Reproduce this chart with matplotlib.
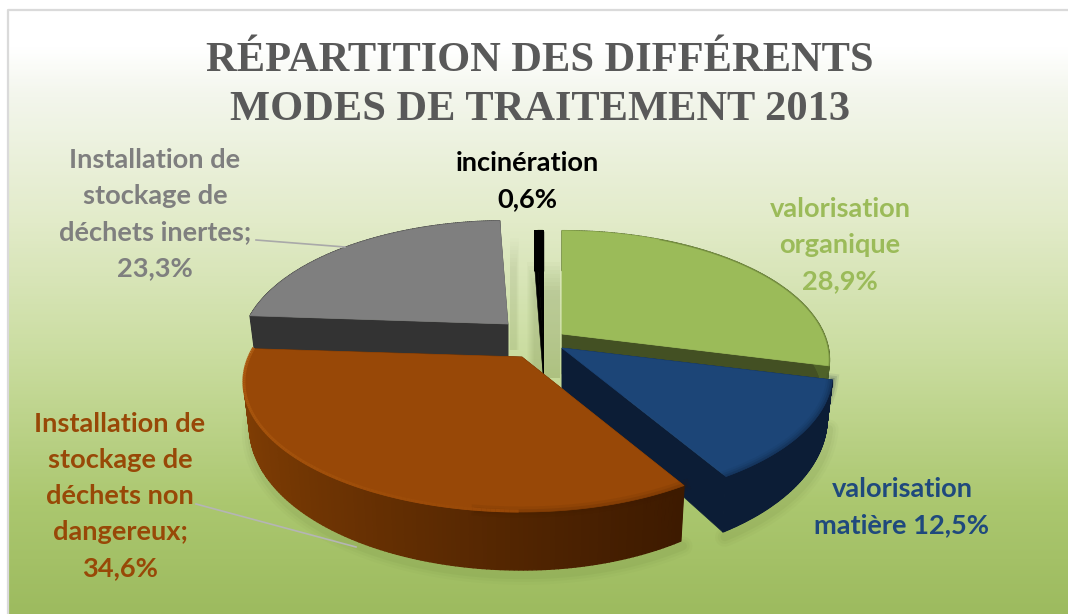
import numpy as np
import matplotlib
matplotlib.use("Agg")
import matplotlib.pyplot as plt
from matplotlib.colors import LinearSegmentedColormap, to_rgb

# ---- data ----
categories = ["valorisation organique", "valorisation matière",
              "Installation de stockage de déchets non dangereux",
              "Installation de stockage de déchets inertes", "incinération"]
values = [28.9, 12.5, 34.6, 23.3, 0.6]
title_text = "RÉPARTITION DES DIFFÉRENTS\nMODES DE TRAITEMENT 2013"
label_texts = ["valorisation\norganique\n28,9%",
               "valorisation\nmatière 12,5%",
               "Installation de\nstockage de\ndéchets non\ndangereux;\n34,6%",
               "Installation de\nstockage de\ndéchets inertes;\n23,3%",
               "incinération\n0,6%"]

# ---- style / layout ----
W, H = 1068, 614
RX, RY, P = 262.0, 124.0, 0.20
top_cols = ["#9bbb59", "#1c4577", "#984807", "#7f7f7f", "#000000"]
face_cols = ["#435023", "#0c1d36", "#3d1a00", "#333333", "#000000"]
rim_left = ["#4f6228", "#0c1d36", "#7f3d04", "#333333", "#000000"]
rim_right = ["#4f6228", "#0c1d36", "#3d1a00", "#333333", "#000000"]
centers = [(562, 334), (562, 348), (522, 357), (508, 324), (543, 334)]
left_stretch = [1.0, 1.0, 1.04, 1.0, 1.0]
right_stretch = [1.0, 1.012, 1.0, 1.0, 1.0]
label_pos = [(840, 245), (902, 507), (120, 496), (155, 214), (527, 181)]
draw_order = [3, 0, 4, 1, 2]

fig = plt.figure(figsize=(W / 100, H / 100), dpi=100)
ax = fig.add_axes([0, 0, 1, 1])
ax.set_xlim(0, W)
ax.set_ylim(H, 0)
ax.axis("off")

# background
bg = LinearSegmentedColormap.from_list("bg", [
    (0.0, "#ffffff"), (0.06, "#ffffff"), (0.14, "#f3f6ec"), (0.35, "#e2ebc9"),
    (0.58, "#c9dc9e"), (0.82, "#abc76f"), (1.0, "#9dbb5f")])
ax.imshow(np.linspace(0, 1, 300)[:, None], cmap=bg, aspect="auto",
          extent=(8, W, H, 10), zorder=0)
ax.plot([8, 8, W], [H, 10, 10], color="#dadada", lw=1.6, zorder=1)
ax.set_xlim(0, W)
ax.set_ylim(H, 0)


def project(theta, c, lstretch, rstretch):
    X, Y = np.sin(theta), np.cos(theta)
    s = 1 / (1 + P * Y)
    sx = np.where(X < 0, lstretch, rstretch)
    return c[0] + RX * X * s * sx, c[1] - RY * Y * s, Y


def depth(Y):
    return 40 - 18 * np.minimum(Y, 0)


def mix(a, b, t):
    a, b = np.array(to_rgb(a)), np.array(to_rgb(b))
    return tuple(a + (b - a) * t)


bounds = np.cumsum([0] + values) / np.sum(values) * 2 * np.pi

# soft shadows under the front slices
for i in [1, 2]:
    th = np.linspace(bounds[i], bounds[i + 1], 120)
    x, y, Y = project(th, centers[i], left_stretch[i], right_stretch[i])
    xb = centers[i][0] + (x - centers[i][0]) * 0.98
    yb = y + depth(Y)
    for lw, a in [(14, .03), (10, .04), (6, .06)]:
        ax.plot(xb + 2, yb + 5, color="#4f6228", lw=lw, alpha=a, zorder=2,
                solid_capstyle="round")
# soft shadow in the gap behind the slices
for g in range(8):
    ax.fill_between([510, 515 - g * 0.4 + 4], 238 + g * 4, 350, color="#4f6228",
                    alpha=0.012, lw=0, zorder=2)
    ax.fill_between([527 + g, 560], 262 + g * 4, 378, color="#4f6228",
                    alpha=0.022, lw=0, zorder=2)

z = 3
for i in draw_order:
    c = centers[i]
    th = np.linspace(bounds[i], bounds[i + 1], 160)
    x, y, Y = project(th, c, left_stretch[i], right_stretch[i])
    xb = c[0] + (x - c[0]) * 0.98
    yb = y + depth(Y)
    d0 = 40
    # radial faces
    for k in [0, -1]:
        ax.fill([c[0], x[k], xb[k], c[0]], [c[1], y[k], yb[k], c[1] + d0],
                color=face_cols[i], lw=0.4, zorder=z)
    # outer rim as gradient strips
    xmin, xmax = x.min(), x.max()
    for k in range(len(th) - 1):
        t = (x[k] - xmin) / max(xmax - xmin, 1)
        col = mix(rim_left[i], rim_right[i], t ** 0.8)
        ax.fill([x[k], x[k + 1], xb[k + 1], xb[k]],
                [y[k], y[k + 1], yb[k + 1], yb[k]],
                color=col, ec=col, lw=1.0, zorder=z)
    # top surface
    ax.fill(np.r_[c[0], x], np.r_[c[1], y], color=top_cols[i], lw=0.5, zorder=z + 1)
    # bevel
    if i == 1:
        for lw, a in [(9, .07), (6, .12), (3, .2)]:
            ax.plot(x, y, color="#0c1d36", lw=lw, alpha=a, zorder=z + 2)
    elif i == 2:
        for lw, a in [(8, .08), (4, .12)]:
            ax.plot(x[:50], y[:50], color="#3d1a00", lw=lw, alpha=a, zorder=z + 2)
        n0 = 40
        for k in range(n0, len(th) - 1):
            t = (k - n0) / (len(th) - n0 - 1)
            ax.plot(x[k:k + 2], y[k:k + 2] - 1, color=mix("#984807", "#ad5a10", t),
                    lw=2.2, zorder=z + 2, solid_capstyle="butt")
    elif i == 0:
        ax.plot(x[40:], y[40:], color="#5f7530", lw=1.0, alpha=.5, zorder=z + 2)
    z += 4

# leader lines
ax.plot([256, 345], [240, 247], color="#a9a9a9", lw=1.2, zorder=40)
ax.plot([196, 356], [504, 547], color="#b5b5b5", lw=1.2, zorder=2.5)

# texts
ax.text(540, 85.5, title_text, ha="center", va="center", family="Liberation Serif",
        weight="bold", fontsize=30.6, color="#595959", linespacing=1.35, zorder=50)
label_cols = ["#9bbb59", "#1f497d", "#984807", "#7f7f7f", "#000000"]
for txt, (lx, ly), col in zip(label_texts, label_pos, label_cols):
    ax.text(lx, ly, txt, ha="center", va="center", family="Lato", weight="bold",
            fontsize=19.6, color=col, linespacing=1.6, zorder=50)

fig.savefig("out.png", dpi=100)
